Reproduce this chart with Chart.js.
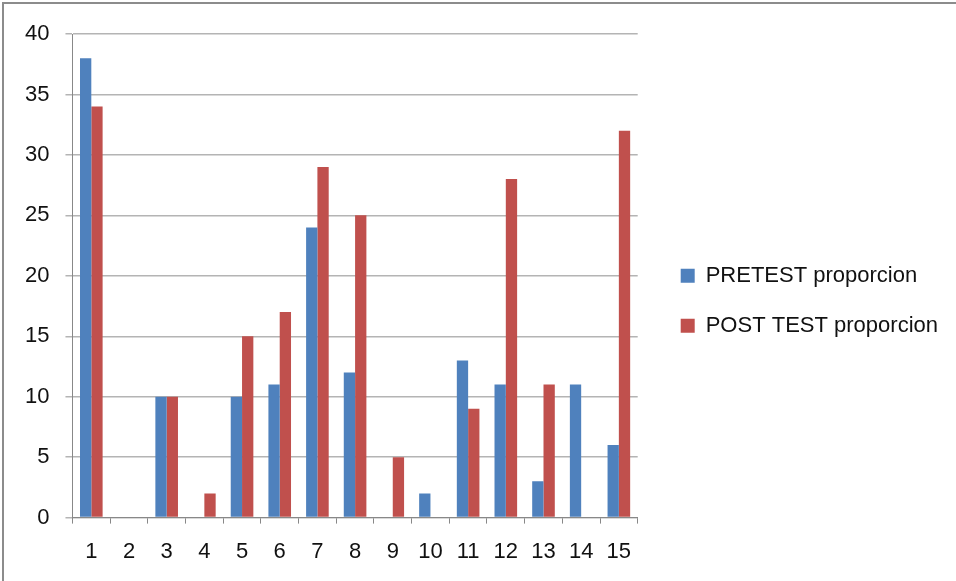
<!DOCTYPE html>
<html>
<head>
<meta charset="utf-8">
<script src="https://cdn.jsdelivr.net/npm/chart.js@4.4.0/dist/chart.umd.min.js"></script>
<style>
  html, body { margin: 0; padding: 0; background: #fff; }
  #frame {
    position: absolute; left: 2px; top: 2px; width: 960px; height: 590px;
    border-left: 2px solid #8c8c8c; border-top: 2px solid #8c8c8c;
  }
  #wrap { position: absolute; left: 0; top: 0; width: 956px; height: 581px; }
</style>
</head>
<body>
<div id="frame"></div>
<div id="wrap"><canvas id="myChart"></canvas></div>
<script>
const categories = ["1", "2", "3", "4", "5", "6", "7", "8", "9", "10", "11", "12", "13", "14", "15"];
const pretest = [38, 0, 10, 0, 10, 11, 24, 12, 0, 2, 13, 11, 3, 11, 6];
const posttest = [34, 0, 10, 2, 15, 17, 29, 25, 5, 0, 9, 28, 11, 0, 32];
const yTicks = [0, 5, 10, 15, 20, 25, 30, 35, 40];

var canvas = document.getElementById("myChart");

new Chart(canvas, {
  type: "bar",
  data: {
    labels: categories,
    datasets: [
      {
        label: "PRETEST proporcion",
        data: pretest,
        backgroundColor: "#4f81bd",
        borderWidth: 0,
      },
      {
        label: "POST TEST proporcion",
        data: posttest,
        backgroundColor: "#c0504d",
        borderWidth: 0,
      },
    ],
  },
  options: {
    responsive: true,
    maintainAspectRatio: false,
    animation: false,
    layout: {
      padding: { left: 9, top: 34, right: 8, bottom: 1 },
    },
    datasets: {
      bar: { categoryPercentage: 0.6, barPercentage: 1.0 },
    },
    plugins: {
      tooltip: { enabled: false },
      legend: {
        position: "right",
        fullSize: false,
        maxWidth: 400,
        labels: {
          font: { family: "Liberation Sans", size: 22 },
          color: "#111",
          boxWidth: 14,
          boxHeight: 14,
          padding: 28,
          // blank spacer item on top so the two real entries sit a bit lower
          generateLabels: (chart) => {
            const items = Chart.defaults.plugins.legend.labels.generateLabels(chart);
            items.unshift({
              text: "",
              fillStyle: "rgba(0,0,0,0)",
              strokeStyle: "rgba(0,0,0,0)",
              lineWidth: 0,
              hidden: false,
              datasetIndex: -1,
            });
            return items;
          },
        },
      },
    },
    scales: {
      x: {
        grid: {
          drawOnChartArea: false,
          color: "#888",
          tickLength: 6,
          offset: true,
        },
        border: { color: "#888" },
        ticks: {
          font: { family: "Liberation Sans", size: 22 },
          color: "#111",
          padding: 15,
          maxRotation: 0,
        },
      },
      y: {
        min: 0,
        max: 40,
        afterBuildTicks: (axis) => {
          axis.ticks = yTicks.map((v) => ({ value: v }));
        },
        grid: {
          color: "#b4b4b4",
          lineWidth: 1.5,
          tickLength: 7,
        },
        border: { color: "#888" },
        ticks: {
          font: { family: "Liberation Sans", size: 22 },
          color: "#111",
          padding: 16,
        },
      },
      // empty right axis, only used as a gap between plot and legend
      yGap: {
        position: "right",
        grid: { display: false },
        border: { display: false },
        ticks: { display: false },
        afterFit: (scale) => {
          scale.width = 15;
        },
      },
    },
  },
});
</script>
</body>
</html>
